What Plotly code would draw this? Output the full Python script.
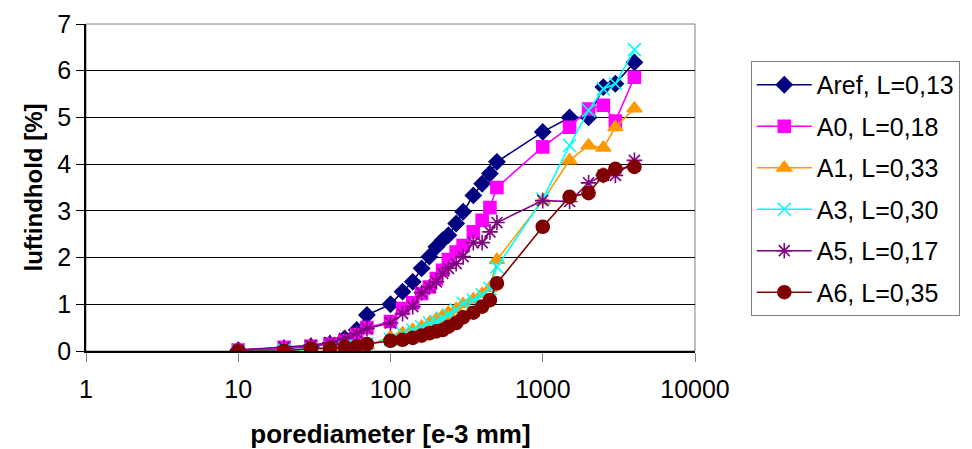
import plotly.graph_objects as go

# pore diameter classes [e-3 mm]
diameter = [10, 20, 30, 40, 50, 60, 70, 100, 120, 140, 160, 180, 200, 220, 240,
            270, 300, 350, 400, 450, 500, 1000, 1500, 2000, 2500, 3000, 4000]

# cumulative air content [%] per mix
aref = [0.02, 0.05, 0.10, 0.15, 0.27, 0.45, 0.77, 1.00, 1.27, 1.48, 1.77, 2.02, 2.23,
        2.37, 2.48, 2.73, 2.98, 3.33, 3.58, 3.80, 4.05, 4.69, 5.00, 5.00, 5.65, 5.72, 6.18]
a0 = [0.02, 0.08, 0.10, 0.15, 0.22, 0.35, 0.50, 0.63, 0.91, 1.03, 1.23, 1.37, 1.55,
      1.73, 1.96, 2.12, 2.26, 2.55, 2.80, 3.07, 3.50, 4.37, 4.79, 5.18, 5.26, 4.92, 5.86]
a1 = [0.00, 0.00, 0.02, 0.05, 0.08, 0.10, 0.12, 0.30, 0.38, 0.45, 0.52, 0.60, 0.68,
      0.75, 0.82, 0.90, 1.00, 1.10, 1.22, 1.35, 1.95, 3.22, 4.08, 4.40, 4.35, 4.79, 5.19]
a3 = [0.00, 0.02, 0.03, 0.06, 0.10, 0.12, 0.15, 0.25, 0.38, 0.45, 0.52, 0.60, 0.63,
      0.70, 0.77, 0.88, 1.02, 1.09, 1.20, 1.34, 1.80, 3.25, 4.40, 5.15, 5.61, 5.72, 6.45]
a5 = [0.02, 0.08, 0.12, 0.18, 0.27, 0.38, 0.48, 0.60, 0.80, 0.95, 1.25, 1.37, 1.48,
      1.66, 1.77, 1.87, 2.02, 2.32, 2.32, 2.55, 2.75, 3.22, 3.20, 3.60, 3.76, 3.76, 4.08]
a6 = [0.00, 0.00, 0.06, 0.06, 0.09, 0.10, 0.15, 0.22, 0.24, 0.28, 0.33, 0.38, 0.42,
      0.45, 0.52, 0.60, 0.72, 0.82, 0.95, 1.09, 1.45, 2.66, 3.30, 3.38, 3.76, 3.90, 3.94]

series_names = ["Aref, L=0,13", "A0, L=0,18", "A1, L=0,33",
                "A3, L=0,30", "A5, L=0,17", "A6, L=0,35"]
series_values = [aref, a0, a1, a3, a5, a6]
colors = ["#000080", "#FF00FF", "#FF9900", "#00FFFF", "#800080", "#800000"]
symbols = ["diamond", "square", "triangle-up", "x-thin-open", "asterisk-open", "circle"]
sizes = [12, 12, 13, 13, 13, 13]

x_ticks = [1, 10, 100, 1000, 10000]
y_ticks = [0, 1, 2, 3, 4, 5, 6, 7]

FONT = "Liberation Sans, Arial, sans-serif"

fig = go.Figure()
for i, (name, vals) in enumerate(zip(series_names, series_values)):
    fig.add_trace(go.Scatter(
        x=diameter, y=vals, name=name, mode="lines+markers",
        legendgroup=f"g{i}",
        line=dict(color=colors[i], width=1.6),
        marker=dict(symbol=symbols[i], size=sizes[i], color=colors[i],
                    line=dict(color=colors[i], width=1.6)),
    ))

fig.update_layout(
    width=972, height=449,
    margin=dict(l=86, r=275, t=24, b=98),
    paper_bgcolor="white", plot_bgcolor="white",
    font=dict(family=FONT, size=24, color="black"),
    showlegend=True,
    legend=dict(
        x=1.0916, y=0.887, xanchor="left", yanchor="top",
        bordercolor="#808080", borderwidth=1, bgcolor="white",
        font=dict(family=FONT, size=25),
        itemwidth=55, tracegroupgap=6,
    ),
    xaxis=dict(
        type="log", range=[0, 4], tickvals=x_ticks,
        ticktext=[str(v) for v in x_ticks],
        showgrid=False, zeroline=False, automargin=False,
        showline=True, linecolor="black", linewidth=1.5,
        ticks="outside", ticklen=9, tickcolor="#808080", tickwidth=1,
        ticklabelstandoff=6,
        tickfont=dict(size=25),
        title=dict(text="<b>porediameter [e-3 mm]</b>", font=dict(size=26), standoff=24),
    ),
    yaxis=dict(
        range=[0, 7], tickvals=y_ticks,
        showgrid=True, gridcolor="black", gridwidth=1,
        zeroline=False, automargin=False,
        showline=True, linecolor="black", linewidth=1.5,
        ticks="outside", ticklen=8, tickcolor="black", tickwidth=1,
        tickfont=dict(size=25),
        title=dict(text="<b>luftindhold [%]</b>", font=dict(size=24), standoff=8),
    ),
    shapes=[dict(type="rect", xref="paper", yref="paper", x0=0, x1=1, y0=0, y1=1,
                 line=dict(color="#808080", width=1), layer="below")],
)

fig.write_html("out.html")
